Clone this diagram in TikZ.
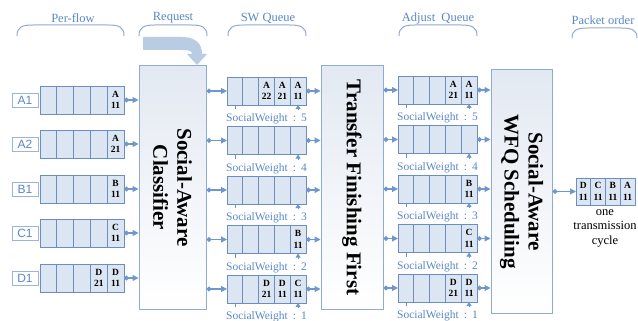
\documentclass[tikz,border=0pt]{standalone}
\usepackage{fontspec}
\setmainfont{Liberation Serif}
\newfontfamily\lsans{Liberation Sans}
\usetikzlibrary{arrows.meta,calc}
\definecolor{qfill}{HTML}{DCE6F2}
\definecolor{qdraw}{HTML}{6C8EBF}
\definecolor{txtblue}{HTML}{5B87C5}
\definecolor{arr}{HTML}{6F97CB}
\definecolor{boxdraw}{HTML}{8FAAD3}
\definecolor{reqarrow}{HTML}{B8CCE4}
\definecolor{lblbox}{HTML}{9BB5DA}
\definecolor{boxtop}{HTML}{E3E9F2}
\newcommand\pk[2]{#1\\#2}
\newcommand\qrow[9]{%
  \node[cell,minimum width=#4pt,anchor=west] (#1-1) at (#2,#3) {#5};
  \node[cell,minimum width=#4pt,anchor=west] (#1-2) at (#1-1.east) {#6};
  \node[cell,minimum width=#4pt,anchor=west] (#1-3) at (#1-2.east) {#7};
  \node[cell,minimum width=#4pt,anchor=west] (#1-4) at (#1-3.east) {#8};
  \node[cell,minimum width=#4pt,anchor=west] (#1-5) at (#1-4.east) {#9};
}
\newcommand\ptrs[1]{%
  \draw[tickline] (#1-1.south) -- ++(0,4);
  \draw[ptrarrow] ([yshift=-5pt]#1-5.south) -- (#1-5.south);
}
\begin{document}
\begin{tikzpicture}[x=1pt,y=-1pt,
  cell/.style={draw=qdraw, fill=qfill, line width=0.8pt, minimum height=28pt,
    inner sep=0pt, outer sep=0pt, align=center,
    font=\fontsize{9.5}{11.5}\selectfont\bfseries},
  bigbox/.style={draw=boxdraw, line width=1pt, top color=boxtop, bottom color=white,
    minimum height=243pt, inner sep=0pt},
  rottext/.style={rotate=-90, align=center, font=\fontsize{21}{24}\selectfont\bfseries},
  conn/.style={draw=arr, line width=1.1pt,
    arrows={Circle[length=5pt]}-{Triangle[length=6pt,width=6pt]}},
  tickline/.style={draw=qdraw, line width=0.8pt},
  ptrarrow/.style={draw=arr, line width=0.8pt, arrows=-{Triangle[length=4pt,width=5pt]}},
  flowlbl/.style={draw=lblbox, line width=0.8pt, minimum width=26pt, minimum height=14pt,
    inner sep=0pt, text=txtblue, font=\lsans\fontsize{12}{12}\selectfont},
  hdr/.style={text=txtblue, font=\fontsize{12.5}{13}\selectfont, inner sep=0pt},
  swlbl/.style={text=txtblue, font=\fontsize{11.5}{12}\selectfont, inner sep=0pt},
  brace/.style={draw=boxdraw, line width=1pt}
]
\useasboundingbox (0,0) rectangle (638,321);

% headers and braces
\node[hdr] (h1) at (73,18) {Per-flow};
\node[hdr] (h2) at (173,18) {Request};
\node[hdr] (h3) at (268,18) {SW Queue};
\node[hdr] (h4) at (438,18) {Adjust~~Queue};
\node[hdr] (h5) at (603,20) {Packet order};
\foreach \a/\b/\t/\e in {17/124/25/36, 139/207/25/36, 228/306/25/36, 399/477/25/36, 572/637/28/38}{
  \draw[brace] (\a,\e) .. controls (\a,{\t+2}) and ({\a+5},\t) .. ({\a+16},\t)
     -- ({\b-16},\t) .. controls ({\b-5},\t) and (\b,{\t+2}) .. (\b,\e);
}

% request arrow
\fill[reqarrow] (143,37) -- (182,37) .. controls (196,37) and (202,44) .. (202,54)
  -- (207,54) -- (197,65) -- (187,54) -- (192,54)
  .. controls (192,51) and (189,50) .. (182,50) -- (143,50) -- cycle;

% big boxes
\node[bigbox, minimum width=67pt] (cls) at (172.5,187.5) {};
\node[rottext] (clst) at (cls.center) {Social-Aware\\Classifier};
\node[bigbox, minimum width=62pt] (tff) at (352,187.5) {};
\node[rottext] (tfft) at (tff.center) {Transfer Finishing First};
\node[bigbox, minimum width=61pt] (wfq) at (521.5,191.5) {};
\node[rottext] (wfqt) at (wfq.center) {Social-Aware\\WFQ Scheduling};

% flow labels
\node[flowlbl] (la1) at (25,100) {A1};
\node[flowlbl] (la2) at (25,144) {A2};
\node[flowlbl] (lb1) at (25,189) {B1};
\node[flowlbl] (lc1) at (25,233) {C1};
\node[flowlbl] (ld1) at (25,278) {D1};

% per-flow queues
\qrow{pf1}{40}{100}{16.8}{}{}{}{}{\pk{A}{11}}
\qrow{pf2}{40}{144}{16.8}{}{}{}{}{\pk{A}{21}}
\qrow{pf3}{40}{189}{16.8}{}{}{}{}{\pk{B}{11}}
\qrow{pf4}{40}{233}{16.8}{}{}{}{}{\pk{C}{11}}
\qrow{pf5}{40}{278}{16.8}{}{}{}{\pk{D}{21}}{\pk{D}{11}}

% SW queues
\qrow{sw1}{227}{91}{15.8}{}{}{\pk{A}{22}}{\pk{A}{21}}{\pk{A}{11}}
\qrow{sw2}{227}{140.5}{15.8}{}{}{}{}{}
\qrow{sw3}{227}{190}{15.8}{}{}{}{}{}
\qrow{sw4}{227}{239.5}{15.8}{}{}{}{}{\pk{B}{11}}
\qrow{sw5}{227}{289}{15.8}{}{}{\pk{D}{21}}{\pk{D}{11}}{\pk{C}{11}}

% adjust queues
\qrow{ad1}{398}{90}{15.8}{}{}{}{\pk{A}{21}}{\pk{A}{11}}
\qrow{ad2}{398}{139.5}{15.8}{}{}{}{}{}
\qrow{ad3}{398}{189}{15.8}{}{}{}{}{\pk{B}{11}}
\qrow{ad4}{398}{238.5}{15.8}{}{}{}{}{\pk{C}{11}}
\qrow{ad5}{398}{288}{15.8}{}{}{}{\pk{D}{21}}{\pk{D}{11}}

\foreach \r/\w in {1/5,2/4,3/3,4/2,5/1}{
  \ptrs{sw\r}
  \ptrs{ad\r}
  \node[swlbl] (swl\r) at ($(sw\r-3.south)+(0,14)$) {SocialWeight\hspace{5pt}:\hspace{5pt}\w};
  \node[swlbl] (adl\r) at ($(ad\r-3.south)+(0,14)$) {SocialWeight\hspace{5pt}:\hspace{5pt}\w};
}

% output queue
\node[cell,minimum width=14.75pt,minimum height=27pt,anchor=west] (out-1) at (576,191.5) {\pk{D}{11}};
\node[cell,minimum width=14.75pt,minimum height=27pt,anchor=west] (out-2) at (out-1.east) {\pk{C}{11}};
\node[cell,minimum width=14.75pt,minimum height=27pt,anchor=west] (out-3) at (out-2.east) {\pk{B}{11}};
\node[cell,minimum width=14.75pt,minimum height=27pt,anchor=west] (out-4) at (out-3.east) {\pk{A}{11}};
\node[align=center, font=\fontsize{12.5}{14.5}\selectfont, inner sep=0pt] (cyc) at (605,228) {one\\transmission\\cycle};

% connectors
\foreach \r in {1,...,5}{
  \draw[conn] (pf\r-5.east) -- (cls.west |- pf\r-5.east);
  \draw[conn] (cls.east |- sw\r-1.west) -- (sw\r-1.west);
  \draw[conn] (sw\r-5.east) -- (tff.west |- sw\r-5.east);
  \draw[conn] (tff.east |- ad\r-1.west) -- (ad\r-1.west);
  \draw[conn] (ad\r-5.east) -- (wfq.west |- ad\r-5.east);
}
\draw[conn] (wfq.east |- out-1.west) -- (out-1.west);
\end{tikzpicture}
\end{document}
